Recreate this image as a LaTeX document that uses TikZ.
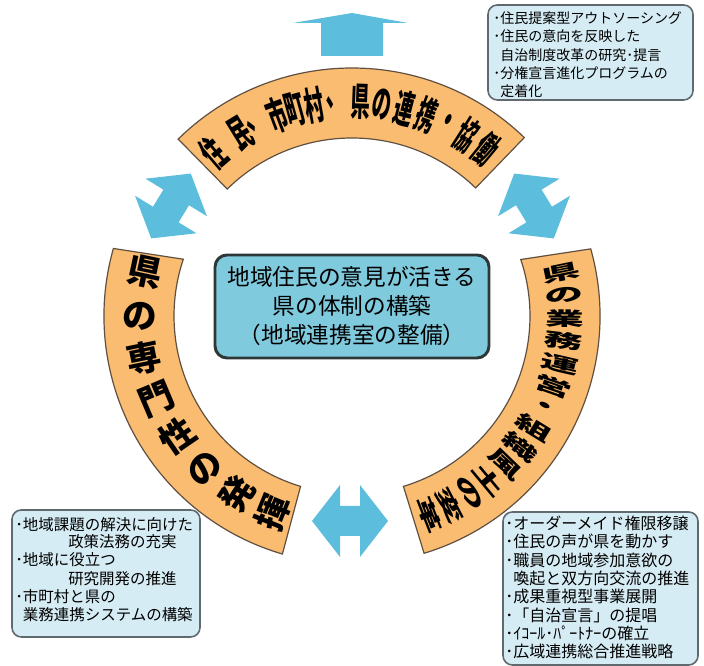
\documentclass[tikz,border=0pt]{standalone}
\usepackage{fontspec}
\usepackage{graphicx}
\newfontfamily\cjk{Noto Sans CJK JP}
\definecolor{arcfill}{RGB}{250,188,112}
\definecolor{arcline}{RGB}{95,80,65}
\definecolor{arrowblue}{RGB}{92,190,220}
\definecolor{centerfill}{RGB}{128,202,222}
\definecolor{sidefill}{RGB}{214,236,244}
\definecolor{sideline}{RGB}{95,105,110}
\definecolor{centerline}{RGB}{45,55,55}
\begin{document}
\begin{tikzpicture}[x=0.75pt,y=0.75pt,
  arcseg/.style={fill=arcfill,draw=arcline,line width=0.9pt},
  blockarrow/.style={fill=arrowblue,draw=none},
  sidebox/.style={draw=sideline,fill=sidefill,line width=1.2pt,rounded corners=7pt,inner sep=0pt},
  centerbox/.style={draw=centerline,fill=centerfill,line width=2.2pt,rounded corners=9pt,inner sep=0pt,
     align=center,font=\cjk\fontsize{17}{21.75}\selectfont},
  trline/.style={anchor=west,inner sep=0pt,font=\cjk\fontsize{10.5}{12}\selectfont},
  blline/.style={anchor=west,inner sep=0pt,font=\cjk\fontsize{11.6}{13}\selectfont},
  brline/.style={anchor=west,inner sep=0pt,font=\cjk\fontsize{12}{14}\selectfont},
  toptxt/.style={inner sep=0pt,font=\cjk\bfseries\fontsize{29}{29}\selectfont},
  lefttxt/.style={inner sep=0pt,font=\cjk\bfseries\fontsize{26}{26}\selectfont},
  righttxt/.style={inner sep=0pt,font=\cjk\bfseries\fontsize{29}{29}\selectfont},
  dblarrow/.pic={\fill[blockarrow] (-38,0)--(-10,36)--(-10,15)--(10,15)--(10,36)--(38,0)--(10,-36)--(10,-15)--(-10,-15)--(-10,-36)--cycle;}
]
\useasboundingbox (0,0) rectangle (704,666);

% ring segments
\begin{scope}[shift={(352,350)}]
  \draw[arcseg] (134.5:248) arc[start angle=134.5,end angle=46,radius=248]
     -- (46:178) arc[start angle=46,end angle=134.5,radius=178] -- cycle;
  \draw[arcseg] (164.2:248) arc[start angle=164.2,end angle=253.7,radius=248]
     -- (253.2:178) arc[start angle=253.2,end angle=161.4,radius=178] -- cycle;
  \draw[arcseg] (15.7:248) arc[start angle=15.7,end angle=-73.1,radius=248]
     -- (-73.2:178) arc[start angle=-73.2,end angle=18.5,radius=178] -- cycle;

  \foreach \a/\c [count=\i] in {130.5/住,121.5/民,116.5/、,110.5/市,105.3/町,100.2/村,94.2/、,
      87.8/県,81.9/の,75.8/連,69.6/携,63.8/・,57.5/協,51/働}
    \path (\a:214) node[toptxt,rotate=\a-90] (tp\i) {\scalebox{0.5}[1]{\c}};
  \foreach \a/\c [count=\i] in {168/県,180/の,191.5/専,203/門,214.5/性,226/の,237/発,248/揮}
    \path (\a:212) node[lefttxt,rotate=\a-180] (lf\i) {\c};
  \foreach \a/\c [count=\i] in {11.6/県,5.5/の,-0.6/業,-6.8/務,-13/運,-19.2/営,-25.4/・,
      -31.6/組,-37.8/織,-44/風,-50.2/土,-56.4/の,-62.6/変,-68.8/革}
    \path (\a:213) node[righttxt,rotate=\a] (rt\i) {\scalebox{1}[0.48]{\c}};
\end{scope}

% arrows
\fill[blockarrow] (352,653) -- (408,643) -- (383,643) -- (383,610) -- (321,610) -- (321,643) -- (293,643) -- cycle;
\path (350,145) pic {dblarrow};
\path (171,460) pic[rotate=58.6] {dblarrow};
\path (534,460) pic[rotate=-58.6] {dblarrow};

% center box
\node[centerbox,minimum width=205.5pt,minimum height=77.25pt] (center) at (352,359.5)
  {地域住民の意見が活きる\\県の体制の構築\\（地域連携室の整備）};

% top right box
\node[sidebox,minimum width=153.75pt,minimum height=71.25pt] (trbox) at (590.5,613.5) {};
\foreach \y/\t [count=\i] in {648/{･住民提案型アウトソーシング},629.5/{･住民の意向を反映した},
   611/{\phantom{･}自治制度改革の研究･提言},592.7/{･分権宣言進化プログラムの},574.5/{\phantom{･}定着化}}
  \node[trline] (tr\i) at (493,\y) {\t};

% bottom left box
\node[sidebox,minimum width=141pt,minimum height=95.25pt] (blbox) at (106,92.5) {};
\foreach \x/\y/\t [count=\i] in {15/141/{･地域課題の解決に向けた},68/124.3/{政策法務の充実},
   15/106/{･地域に役立つ},68/87.7/{研究開発の推進},15/69.3/{･市町村と県の},
   15/51/{\phantom{･}業務連携システムの構築}}
  \node[blline] (bl\i) at (\x,\y) {\t};

% bottom right box
\node[sidebox,minimum width=146.25pt,minimum height=114.75pt] (brbox) at (600.5,77.5) {};
\foreach \y/\t [count=\i] in {142.7/{･オーダーメイド権限移譲},124.3/{･住民の声が県を動かす},
   106/{･職員の地域参加意欲の},87.7/{\phantom{･}喚起と双方向交流の推進},69.3/{･成果重視型事業展開},
   51/{･「自治宣言」の提唱},32.7/{･ｲｺｰﾙ･ﾊﾟｰﾄﾅｰの確立},14.3/{･広域連携総合推進戦略}}
  \node[brline] (br\i) at (505,\y) {\t};
\end{tikzpicture}
\end{document}
